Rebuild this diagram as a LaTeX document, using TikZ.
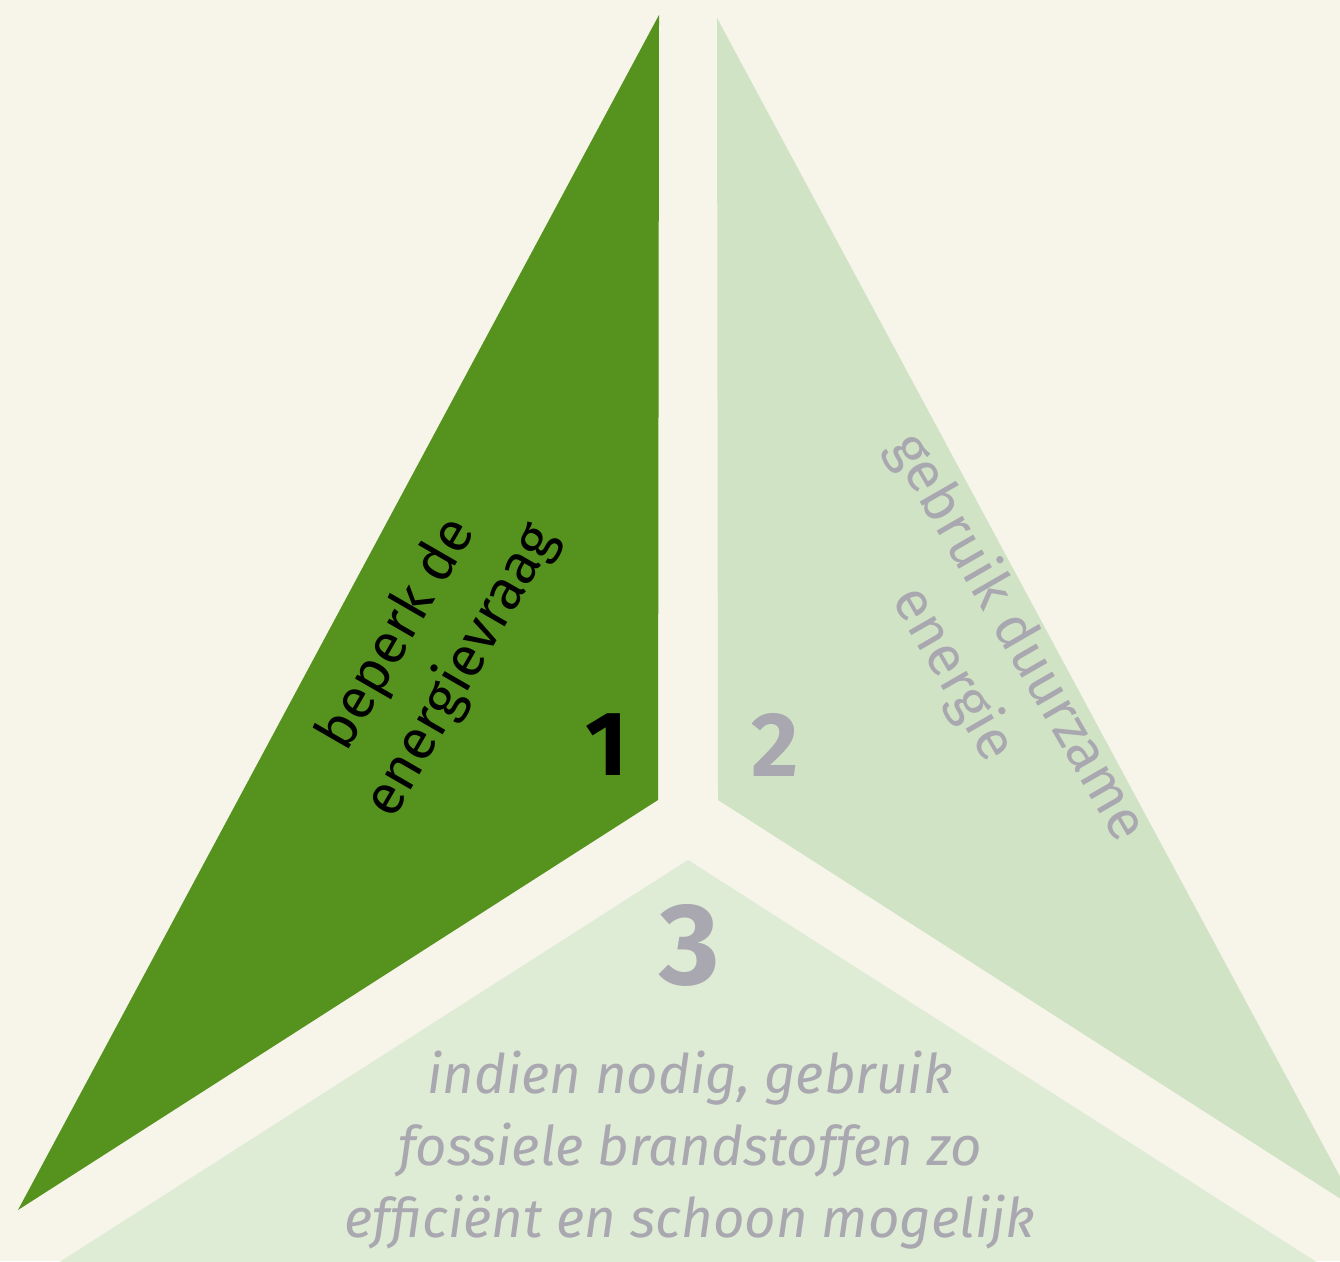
\documentclass[tikz,border=0pt]{standalone}
\usepackage{fontspec}
\setmainfont{Fira Sans}
\usepackage{xcolor}
\usetikzlibrary{positioning}

\definecolor{paper}{HTML}{F7F4EA}
\definecolor{greenDark}{HTML}{55921E}
\definecolor{greenMid}{HTML}{D0E4C5}
\definecolor{greenLight}{HTML}{DEEBD5}
\definecolor{textGray}{HTML}{A9A7AF}

\begin{document}
\begin{tikzpicture}[
    x=0.01cm, y=0.01cm,
    label/.style={align=center, font=\fontsize{16}{21}\selectfont, inner sep=0pt},
    number/.style={font=\fontsize{26}{26}\selectfont\bfseries, inner sep=0pt},
]

% Background
\fill[paper] (0,0) rectangle (1340,1261);
\useasboundingbox (0,0) rectangle (1340,1261);
\clip (0,0) rectangle (1340,1261);

% Part 1
\fill[greenDark] (659,1246) -- (658,461) -- (18,51) -- cycle;

% Part 2
\fill[greenMid] (717,1243) -- (718,461) -- (1358,51) -- cycle;

% Part 3
\fill[greenLight] (688,401) -- (-17,-50) -- (1393,-50) -- cycle;

% Labels
\node[label, rotate=60] (demand) at (430,608) {beperk de\\energievraag};
\node[label, rotate=-60, textGray] (renewable) at (985,605) {gebruik duurzame\\energie};
\node[label, textGray, font=\fontsize{15.5}{20.5}\selectfont\itshape] (fossil) at (690,111)
    {indien nodig, gebruik\\fossiele brandstoffen zo\\efficiënt en schoon mogelijk};

% Numbers
\node[number] (one) at (607,516) {1};
\node[number, textGray] (two) at (775,516) {2};
\node[number, textGray, font=\fontsize{33}{33}\selectfont\bfseries] (three) at (690,316) {3};

\end{tikzpicture}
\end{document}
